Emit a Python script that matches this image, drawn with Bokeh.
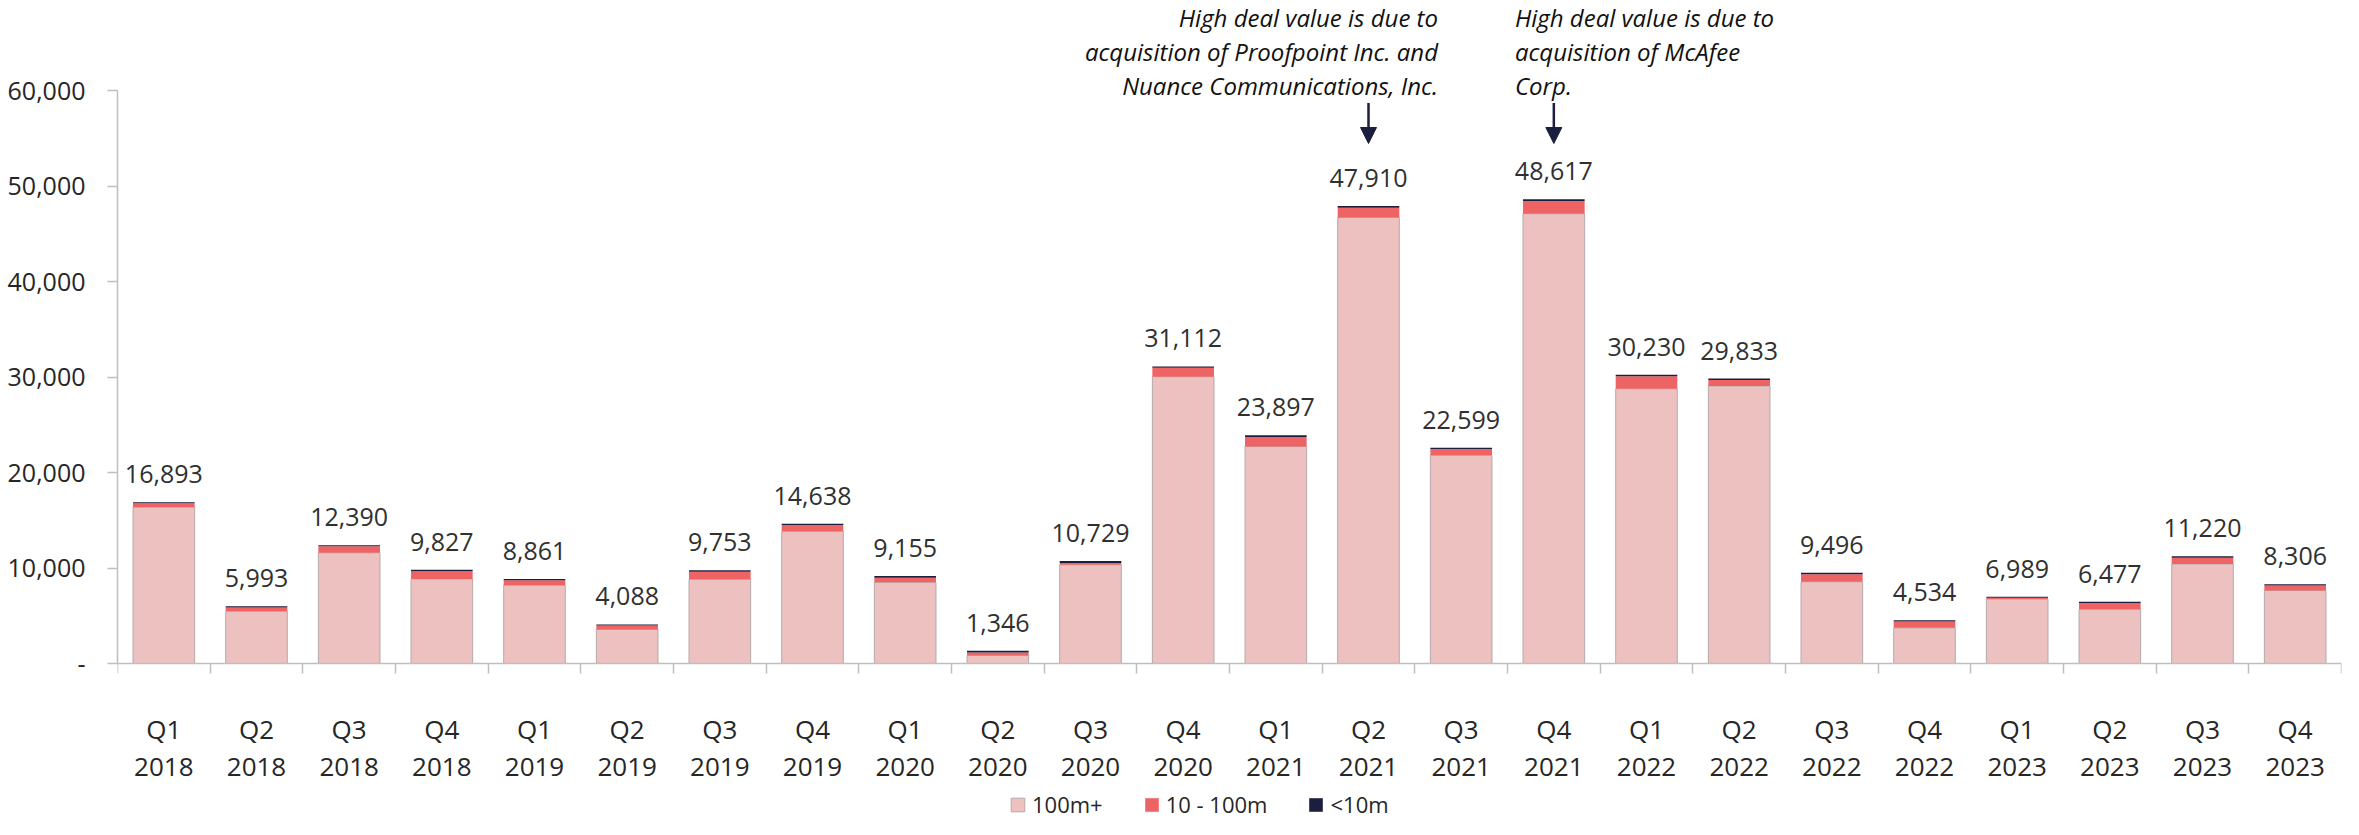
import numpy as np
from bokeh.plotting import figure
from bokeh.models import (ColumnDataSource, Range1d, FixedTicker, NumeralTickFormatter,
                          Legend, LegendItem, Arrow, NormalHead)
from bokeh.core.properties import value
from bokeh.embed import file_html
from bokeh.resources import INLINE

# ---------------- data ----------------
quarters = ["Q1 2018", "Q2 2018", "Q3 2018", "Q4 2018",
            "Q1 2019", "Q2 2019", "Q3 2019", "Q4 2019",
            "Q1 2020", "Q2 2020", "Q3 2020", "Q4 2020",
            "Q1 2021", "Q2 2021", "Q3 2021", "Q4 2021",
            "Q1 2022", "Q2 2022", "Q3 2022", "Q4 2022",
            "Q1 2023", "Q2 2023", "Q3 2023", "Q4 2023"]
tick_labels = [q.replace(" ", "\n") for q in quarters]

totals = [16893, 5993, 12390, 9827, 8861, 4088, 9753, 14638, 9155, 1346, 10729, 31112,
          23897, 47910, 22599, 48617, 30230, 29833, 9496, 4534, 6989, 6477, 11220, 8306]
large = [16373, 5473, 11590, 8857, 8201, 3568, 8813, 13838, 8495, 846, 10329, 30032,
         22717, 46710, 21799, 47097, 28760, 29063, 8556, 3734, 6749, 5677, 10420, 7646]
mid = [420, 390, 700, 800, 520, 420, 800, 660, 490, 300, 200, 940,
       1010, 1000, 660, 1320, 1330, 630, 800, 660, 140, 660, 660, 520]
small = [100, 130, 100, 170, 140, 100, 140, 140, 170, 200, 200, 140,
         170, 200, 140, 200, 140, 140, 140, 140, 100, 140, 140, 140]
series_names = ["100m+", "10 - 100m", "<10m"]

y_ticks = [0, 10000, 20000, 30000, 40000, 50000, 60000]

note_a_quarter = "Q2 2021"
note_a_lines = ["High deal value is due to",
                "acquisition of Proofpoint Inc. and",
                "Nuance Communications, Inc."]
note_b_quarter = "Q4 2021"
note_b_lines = ["High deal value is due to",
                "acquisition of McAfee",
                "Corp."]

# ---------------- style ----------------
PINK = "#EEC1C1"
RED = "#EE6464"
NAVY = "#1B1E3C"
AXIS = "#BFBFBF"
FONT = "Open Sans"
TXT = "#262626"

n = len(quarters)
xs = np.arange(n) + 0.5
src = ColumnDataSource(dict(x=xs, large=large, mid=mid, small=small, total=totals,
                            label=[f"{v:,}" for v in totals]))

px_per_unit = 95.5 / 10000.0
zero_px = 663
height = 819
p = figure(width=2343, height=height, output_backend="svg", toolbar_location=None,
           x_range=Range1d(0, n),
           y_range=Range1d(-(height - zero_px) / px_per_unit, zero_px / px_per_unit),
           min_border_left=117, min_border_right=2, min_border_top=0, min_border_bottom=0)
p.grid.visible = False
p.outline_line_color = None
p.background_fill_color = "white"
p.border_fill_color = "white"

rs = p.vbar_stack(["large", "mid", "small"], x="x", width=0.665, source=src,
                  color=[PINK, RED, NAVY],
                  line_color=["#B5A9A9", None, None], line_width=1)

# value labels
p.text(x="x", y="total", text="label", source=src, text_align="center",
       text_baseline="middle", y_offset=-28, text_font=value(FONT),
       text_font_size="25px", text_color="#303030")

# y axis
ya = p.yaxis[0]
ya.bounds = (0, 60000)
ya.ticker = FixedTicker(ticks=y_ticks, minor_ticks=[])
ya.formatter = NumeralTickFormatter(format="0,0")
ya.major_label_overrides = {0: "-"}
ya.axis_line_color = AXIS
ya.axis_line_width = 1.5
ya.major_tick_line_color = AXIS
ya.major_tick_line_width = 1.5
ya.major_tick_out = 10
ya.major_tick_in = 0
ya.minor_tick_line_color = None
ya.major_label_standoff = 22
ya.major_label_text_font = FONT
ya.major_label_text_font_size = "25px"
ya.major_label_text_color = TXT

# x axis
xa = p.xaxis[0]
xa.fixed_location = 0
xa.bounds = (0, n)
xa.ticker = FixedTicker(ticks=list(xs), minor_ticks=list(np.arange(n + 1)))
xa.major_label_overrides = {float(x): lab for x, lab in zip(xs, tick_labels)}
xa.axis_line_color = AXIS
xa.axis_line_width = 1.5
xa.major_tick_line_color = None
xa.major_tick_out = 10
xa.major_tick_in = 0
xa.minor_tick_line_color = AXIS
xa.minor_tick_line_width = 1.5
xa.minor_tick_out = 10
xa.minor_tick_in = 0
xa.major_label_standoff = 37
xa.major_label_text_font = FONT
xa.major_label_text_font_size = "26px"
xa.major_label_text_color = TXT
xa.major_label_text_line_height = 1.05

# annotations
line_ys = [67650, 64100, 60550]
ia = quarters.index(note_a_quarter)
ib = quarters.index(note_b_quarter)
src_a = ColumnDataSource(dict(x=[xs[ia] + 0.75] * 3, y=line_ys, t=note_a_lines))
src_b = ColumnDataSource(dict(x=[xs[ib] - 0.42] * 3, y=line_ys, t=note_b_lines))
for s, al in ((src_a, "right"), (src_b, "left")):
    p.text(x="x", y="y", text="t", source=s, text_align=al, text_baseline="middle",
           text_font=value(FONT), text_font_size="24px", text_font_style="italic",
           text_color="#111111")
for i in (ia, ib):
    p.add_layout(Arrow(end=NormalHead(size=16, fill_color=NAVY, line_color=NAVY),
                       x_start=xs[i], y_start=58700, x_end=xs[i], y_end=54450,
                       line_color=NAVY, line_width=2.5))

# legend
legend = Legend(items=[LegendItem(label=name, renderers=[r]) for name, r in zip(series_names, rs)],
                location=(892, 0), orientation="horizontal",
                glyph_width=17, glyph_height=17, label_standoff=6, spacing=40,
                padding=0, margin=0, border_line_color=None, background_fill_alpha=0,
                label_text_font=FONT, label_text_font_size="22px", label_text_color=TXT)
p.add_layout(legend)

open("out.html", "w").write(file_html(p, INLINE))
